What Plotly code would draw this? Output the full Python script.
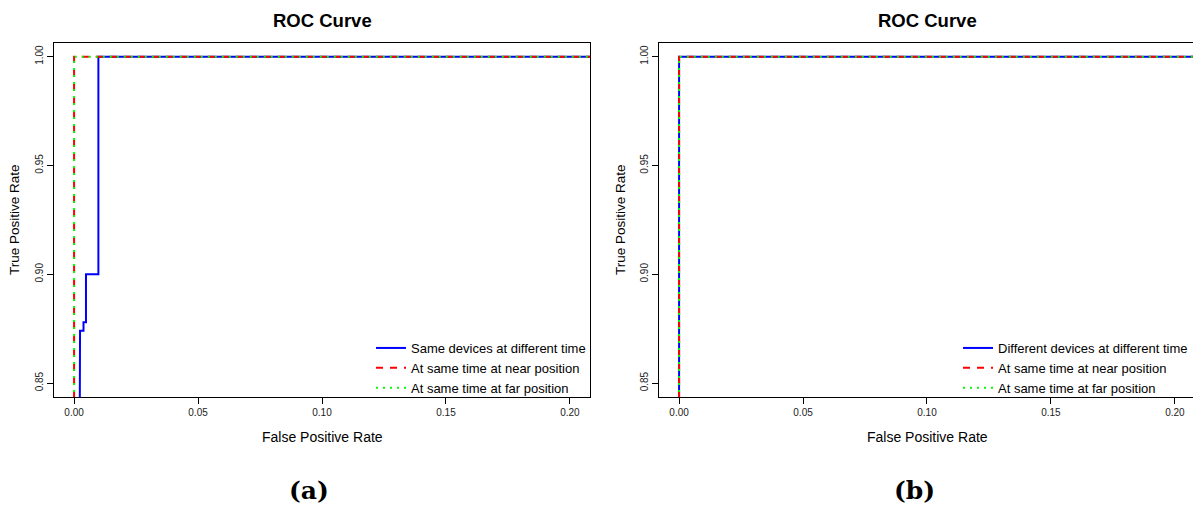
import plotly.graph_objects as go

W, H = 1193, 508

# ---- data ----
left_blue_fpr = [0.0, 0.0024, 0.0024, 0.0038, 0.0038, 0.0048, 0.0048, 0.0098, 0.0098, 1.0]
left_blue_tpr = [0.0, 0.0, 0.874, 0.874, 0.878, 0.878, 0.900, 0.900, 1.0, 1.0]
left_red_fpr = [0.0, 0.0, 1.0]
left_red_tpr = [0.0, 1.0, 1.0]
left_green_fpr = [0.0, 0.0, 1.0]
left_green_tpr = [0.0, 1.0, 1.0]

right_blue_fpr = [0.0, 0.0, 1.0]
right_blue_tpr = [0.0, 1.0, 1.0]
right_red_fpr = [0.0, 0.0, 1.0]
right_red_tpr = [0.0, 1.0, 1.0]
right_green_fpr = [0.0, 0.0, 1.0]
right_green_tpr = [0.0, 1.0, 1.0]

left_names = ["Same devices at different time", "At same time at near position", "At same time at far position"]
right_names = ["Different devices at different time", "At same time at near position", "At same time at far position"]
x_ticks = [0.0, 0.05, 0.10, 0.15, 0.20]
y_ticks = [0.85, 0.90, 0.95, 1.00]


def px(x):
    return x / W


def py(y):
    return 1 - y / H


FONT = "Liberation Sans, Arial, sans-serif"
styles = [
    dict(color="#0000FF", width=2, dash="solid"),
    dict(color="#FF0000", width=2, dash="7px,7px"),
    dict(color="#00FF00", width=2, dash="2px,5px"),
]

fig = go.Figure()

left_data = [(left_blue_fpr, left_blue_tpr), (left_red_fpr, left_red_tpr), (left_green_fpr, left_green_tpr)]
right_data = [(right_blue_fpr, right_blue_tpr), (right_red_fpr, right_red_tpr), (right_green_fpr, right_green_tpr)]

for (xs, ys), name, st in zip(left_data, left_names, styles):
    fig.add_trace(go.Scatter(x=xs, y=ys, mode="lines", name=name, line=st,
                             xaxis="x", yaxis="y", legend="legend"))
for (xs, ys), name, st in zip(right_data, right_names, styles):
    fig.add_trace(go.Scatter(x=xs, y=ys, mode="lines", name=name, line=st,
                             xaxis="x2", yaxis="y2", legend="legend2"))

ydom = [py(397), py(42.7)]
yrange = [0.8436, 1.0064]

common_x = dict(tickmode="array", tickvals=x_ticks, ticktext=[f"{v:.2f}" for v in x_ticks],
                ticks="outside", ticklen=6, tickwidth=1, tickcolor="black",
                showline=True, linecolor="black", linewidth=1, mirror=True,
                showgrid=False, zeroline=False,
                tickfont=dict(family=FONT, size=10, color="#222"))
common_y = dict(tickmode="array", tickvals=y_ticks, ticktext=[f"{v:.2f}" for v in y_ticks],
                ticks="outside", ticklen=6, tickwidth=1, tickcolor="black",
                showline=True, linecolor="black", linewidth=1, mirror=True,
                showgrid=False, zeroline=False, tickangle=-90,
                tickfont=dict(family=FONT, size=10, color="#222"), range=yrange, domain=ydom)

fig.update_layout(
    width=W, height=H,
    margin=dict(l=0, r=0, t=0, b=0, autoexpand=False),
    paper_bgcolor="white", plot_bgcolor="white",
    xaxis=dict(domain=[px(54), px(590)], range=[-0.0081, 0.2081], anchor="y", **common_x),
    yaxis=dict(anchor="x", **common_y),
    xaxis2=dict(domain=[px(659), 1.0], range=[-0.0081, 0.2073], anchor="y2", **common_x),
    yaxis2=dict(anchor="x2", **common_y),
    legend=dict(x=px(371), y=py(368), xanchor="left", yanchor="middle",
                bgcolor="rgba(0,0,0,0)", font=dict(family=FONT, size=13, color="black"),
                itemwidth=30, tracegroupgap=0),
    legend2=dict(x=px(1193), y=py(368), xanchor="right", yanchor="middle",
                 bgcolor="rgba(0,0,0,0)", font=dict(family=FONT, size=13, color="black"),
                 itemwidth=30, tracegroupgap=0),
    showlegend=True,
)

ann = []
for cx in (322, 927):
    ann.append(dict(text="<b>ROC Curve</b>", x=px(cx), y=py(20), xref="paper", yref="paper",
                    showarrow=False, xanchor="center", yanchor="middle",
                    font=dict(family=FONT, size=18.5, color="black")))
    ann.append(dict(text="False Positive Rate", x=px(cx), y=py(437), xref="paper", yref="paper",
                    showarrow=False, xanchor="center", yanchor="middle",
                    font=dict(family=FONT, size=14, color="black")))
for lx in (14, 620):
    ann.append(dict(text="True Positive Rate", x=px(lx), y=py(220), xref="paper", yref="paper",
                    showarrow=False, xanchor="center", yanchor="middle", textangle=-90,
                    font=dict(family=FONT, size=13.5, color="black")))
for lab, cx in (("(a)", 309), ("(b)", 914)):
    ann.append(dict(text=f"<b>{lab}</b>", x=px(cx), y=py(490), xref="paper", yref="paper",
                    showarrow=False, xanchor="center", yanchor="middle",
                    font=dict(family="DejaVu Serif, serif", size=25, color="black")))
fig.update_layout(annotations=ann)

fig.write_html(
    "out.html",
    config={"displayModeBar": False},
    post_script="document.body.style.margin='0';document.body.style.overflow='hidden';",
)
